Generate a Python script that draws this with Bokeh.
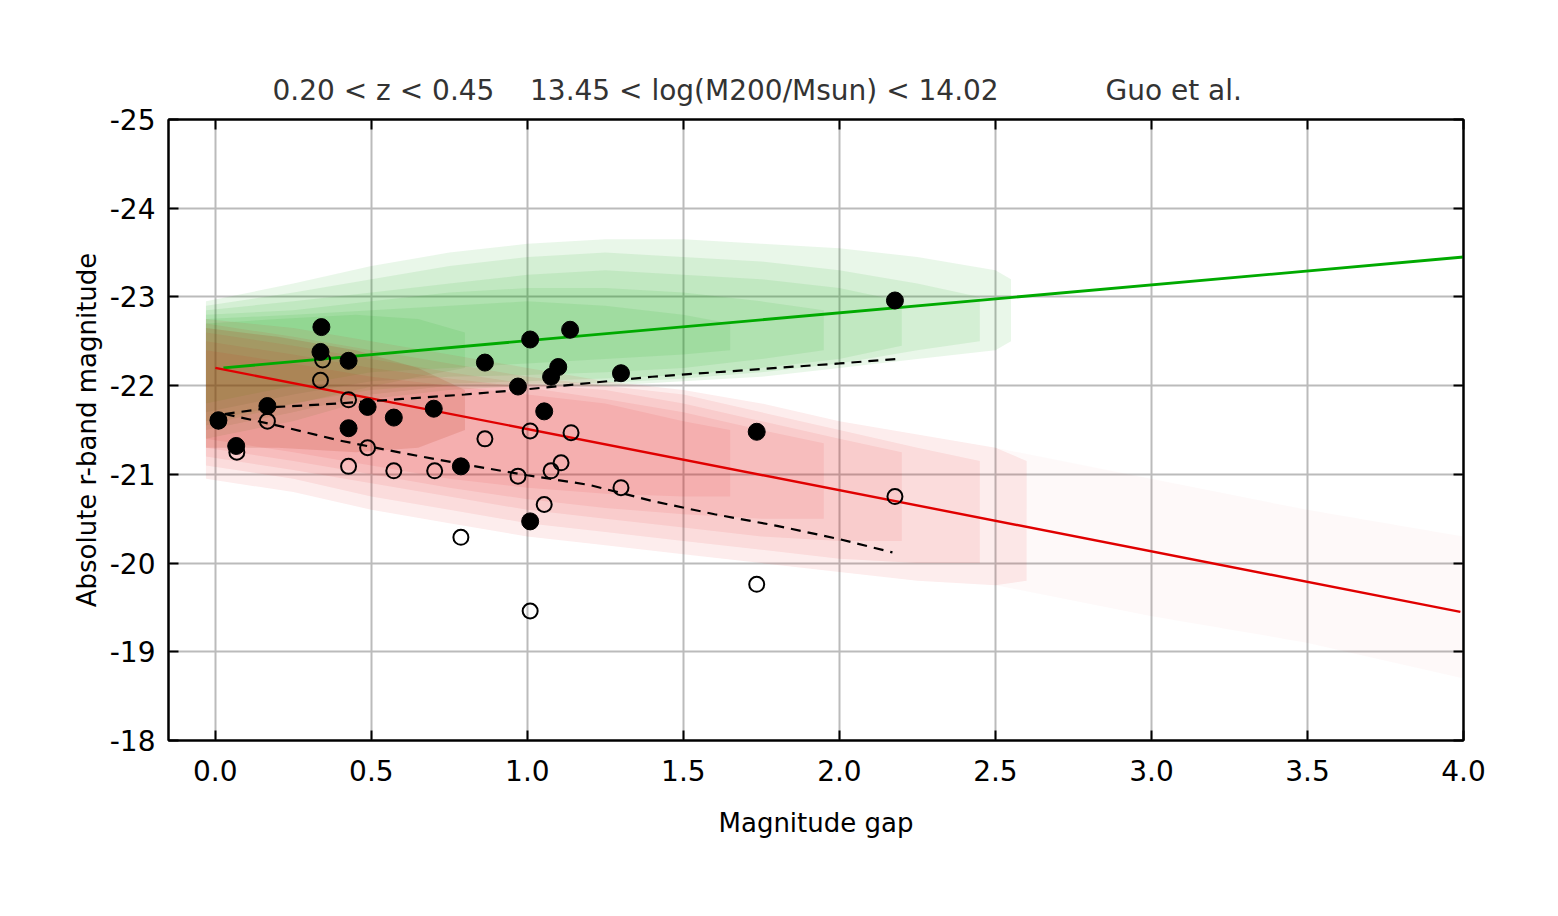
from bokeh.plotting import figure
from bokeh.models import Range1d, LinearAxis, FixedTicker
from bokeh.embed import file_html
from bokeh.resources import INLINE

# ---------------- data ----------------
x_ticks = [0.0, 0.5, 1.0, 1.5, 2.0, 2.5, 3.0, 3.5, 4.0]
y_ticks = [-25, -24, -23, -22, -21, -20, -19, -18]

# brightest group galaxies (filled) and second brightest (open)
filled_x = [0.01, 0.067, 0.167, 0.34, 0.337, 0.427, 0.427, 0.488, 0.572, 0.70, 0.787,
            0.864, 0.97, 1.009, 1.009, 1.054, 1.076, 1.099, 1.137, 1.30, 1.735, 2.178]
filled_m = [-21.61, -21.32, -21.77, -22.66, -22.38, -22.28, -21.52, -21.76, -21.64, -21.74, -21.09,
            -22.26, -21.99, -22.52, -20.47, -21.71, -22.10, -22.21, -22.63, -22.14, -21.48, -22.96]
open_x = [0.01, 0.069, 0.167, 0.344, 0.337, 0.427, 0.427, 0.488, 0.572, 0.703, 0.787,
          0.864, 0.97, 1.009, 1.009, 1.054, 1.076, 1.108, 1.14, 1.30, 1.735, 2.178]
open_m = [-21.60, -21.25, -21.60, -22.29, -22.06, -21.84, -21.09, -21.30, -21.04, -21.04, -20.29,
          -21.40, -20.98, -21.49, -19.46, -20.66, -21.04, -21.13, -21.47, -20.85, -19.76, -20.75]

# model fit lines
green_x = [0.026, 4.0]
green_m = [-22.20, -23.45]
red_x = [0.0, 3.99]
red_m = [-22.20, -19.45]

# dashed running lines
dash_x_up = [0.03, 0.2, 0.4, 0.6, 0.8, 1.0, 1.2, 1.4, 1.6, 1.8, 2.0, 2.18]
dash_m_up = [-21.68, -21.76, -21.80, -21.85, -21.90, -21.96, -22.03, -22.10, -22.15, -22.20, -22.25, -22.30]
dash_x_lo = [0.03, 0.2, 0.4, 0.6, 0.8, 1.0, 1.2, 1.4, 1.6, 1.8, 2.0, 2.17]
dash_m_lo = [-21.68, -21.55, -21.38, -21.24, -21.11, -20.99, -20.88, -20.70, -20.55, -20.42, -20.27, -20.12]

# model galaxy clouds: nested density bands (outer -> inner)
g1_x = [-0.03, 0.25, 0.5, 0.75, 1.0, 1.25, 1.5, 1.75, 2.0, 2.25, 2.5, 2.55]
g1_top = [-22.95, -23.15, -23.35, -23.5, -23.6, -23.65, -23.65, -23.6, -23.55, -23.45, -23.3, -23.2]
g1_bot = [-21.4, -21.6, -21.85, -21.95, -22.0, -22.0, -22.05, -22.1, -22.2, -22.3, -22.4, -22.5]
g2_x = [-0.03, 0.25, 0.5, 0.75, 1.0, 1.25, 1.5, 1.75, 2.0, 2.25, 2.45]
g2_top = [-22.9, -23.05, -23.2, -23.35, -23.45, -23.5, -23.45, -23.4, -23.3, -23.15, -23.0]
g2_bot = [-21.5, -21.7, -21.9, -22.0, -22.02, -22.03, -22.08, -22.15, -22.25, -22.4, -22.5]
g3_x = [-0.03, 0.25, 0.5, 0.75, 1.0, 1.25, 1.5, 1.75, 2.0, 2.2]
g3_top = [-22.85, -22.95, -23.05, -23.15, -23.25, -23.3, -23.25, -23.2, -23.1, -22.95]
g3_bot = [-21.6, -21.8, -21.95, -22.02, -22.05, -22.08, -22.12, -22.2, -22.3, -22.45]
g4_x = [-0.03, 0.25, 0.5, 0.75, 1.0, 1.25, 1.5, 1.75, 1.95]
g4_top = [-22.8, -22.85, -22.95, -23.05, -23.1, -23.1, -23.05, -22.95, -22.85]
g4_bot = [-21.7, -21.9, -22.05, -22.1, -22.12, -22.15, -22.2, -22.3, -22.4]
g5_x = [-0.03, 0.25, 0.5, 0.75, 1.0, 1.25, 1.5, 1.65]
g5_top = [-22.75, -22.8, -22.85, -22.9, -22.95, -22.9, -22.8, -22.7]
g5_bot = [-21.8, -22.0, -22.15, -22.2, -22.25, -22.3, -22.35, -22.4]
g6_x = [-0.03, 0.2, 0.45, 0.65, 0.8]
g6_top = [-22.7, -22.75, -22.8, -22.75, -22.6]
g6_bot = [-21.55, -21.75, -21.95, -22.1, -22.2]

r1_x = [-0.03, 0.25, 0.5, 0.75, 1.0, 1.25, 1.5, 1.75, 2.0, 2.25, 2.5, 2.6]
r1_top = [-22.75, -22.65, -22.5, -22.35, -22.2, -22.05, -21.95, -21.8, -21.6, -21.45, -21.3, -21.15]
r1_bot = [-20.95, -20.8, -20.6, -20.45, -20.3, -20.2, -20.1, -20.0, -19.9, -19.8, -19.75, -19.8]
r2_x = [-0.03, 0.25, 0.5, 0.75, 1.0, 1.25, 1.5, 1.75, 2.0, 2.25, 2.45]
r2_top = [-22.7, -22.55, -22.4, -22.25, -22.1, -22.0, -21.9, -21.7, -21.5, -21.3, -21.15]
r2_bot = [-21.1, -20.95, -20.75, -20.6, -20.45, -20.35, -20.25, -20.15, -20.05, -20.0, -20.0]
r3_x = [-0.03, 0.25, 0.5, 0.75, 1.0, 1.25, 1.5, 1.75, 2.0, 2.2]
r3_top = [-22.6, -22.45, -22.3, -22.15, -22.02, -21.95, -21.8, -21.6, -21.4, -21.25]
r3_bot = [-21.2, -21.05, -20.9, -20.75, -20.6, -20.5, -20.4, -20.3, -20.25, -20.25]
r4_x = [-0.03, 0.25, 0.5, 0.75, 1.0, 1.25, 1.5, 1.75, 1.95]
r4_top = [-22.5, -22.35, -22.2, -22.08, -21.98, -21.85, -21.7, -21.5, -21.35]
r4_bot = [-21.3, -21.15, -21.0, -20.85, -20.72, -20.62, -20.55, -20.5, -20.5]
r5_x = [-0.03, 0.25, 0.5, 0.75, 1.0, 1.25, 1.5, 1.65]
r5_top = [-22.4, -22.25, -22.1, -22.0, -21.9, -21.8, -21.6, -21.5]
r5_bot = [-21.4, -21.25, -21.1, -20.95, -20.85, -20.78, -20.75, -20.75]
r6_x = [-0.03, 0.2, 0.45, 0.65, 0.8]
r6_top = [-22.65, -22.55, -22.4, -22.2, -21.95]
r6_bot = [-21.3, -21.3, -21.25, -21.3, -21.5]
rf_x = [2.5, 3.0, 3.5, 4.0]
rf_top = [-21.3, -20.95, -20.6, -20.3]
rf_bot = [-19.75, -19.4, -19.1, -18.7]

title_text = ("0.20 < z < 0.45" + "\u00a0" * 4 + "13.45 < log(M200/Msun) < 14.02"
              + "\u00a0" * 12 + "Guo et al.")

FONT = "DejaVu Sans"

p = figure(width=1540, height=900, output_backend="svg", toolbar_location=None,
           x_range=Range1d(-0.15, 4.0), y_range=Range1d(-18, -25),
           min_border_left=168, min_border_right=77, min_border_top=119, min_border_bottom=160,
           background_fill_color="white", border_fill_color="white")

p.title.text = title_text
p.title.text_font = FONT
p.title.text_font_size = "28px"
p.title.text_font_style = "normal"
p.title.text_color = "#333333"
p.title.align = "left"
p.title.offset = 104
p.title.standoff = 25

p.outline_line_color = "black"
p.outline_line_width = 2

# clouds: green first, red on top (brown where they overlap)
GREEN = "#00a000"
RED = "#e81010"
for xs, t, b in [(g1_x, g1_top, g1_bot), (g2_x, g2_top, g2_bot), (g3_x, g3_top, g3_bot),
                 (g4_x, g4_top, g4_bot), (g5_x, g5_top, g5_bot), (g6_x, g6_top, g6_bot)]:
    p.varea(x=xs, y1=t, y2=b, fill_color=GREEN, fill_alpha=0.085)
p.varea(x=rf_x, y1=rf_top, y2=rf_bot, fill_color=RED, fill_alpha=0.025)
for xs, t, b in [(r1_x, r1_top, r1_bot), (r2_x, r2_top, r2_bot), (r3_x, r3_top, r3_bot),
                 (r4_x, r4_top, r4_bot), (r5_x, r5_top, r5_bot)]:
    p.varea(x=xs, y1=t, y2=b, fill_color=RED, fill_alpha=0.075)
p.varea(x=r6_x, y1=r6_top, y2=r6_bot, fill_color="#b02000", fill_alpha=0.14)

# fit lines
p.line(green_x, green_m, line_color="#00aa00", line_width=2.8)
p.line(red_x, red_m, line_color="#e00000", line_width=2.4)

# dashed lines
p.line(dash_x_up, dash_m_up, line_color="black", line_width=2.2, line_dash="10 7")
p.line(dash_x_lo, dash_m_lo, line_color="black", line_width=2.2, line_dash="10 7")

# points
p.scatter(open_x, open_m, marker="circle", size=15, fill_color=None,
          line_color="black", line_width=2)
p.scatter(filled_x, filled_m, marker="circle", size=17, fill_color="black",
          line_color="black", line_width=1)

# grids
for g in (p.xgrid, p.ygrid):
    g.grid_line_color = "#bbbbbb"
    g.grid_line_width = 2
p.xgrid.ticker = FixedTicker(ticks=x_ticks)
p.ygrid.ticker = FixedTicker(ticks=y_ticks)


def style_axis(ax, show_labels=True):
    ax.axis_line_color = "black"
    ax.axis_line_width = 2
    ax.major_tick_line_color = "black"
    ax.major_tick_line_width = 2
    ax.major_tick_in = 10
    ax.major_tick_out = 0
    ax.minor_tick_line_color = None
    ax.major_label_text_font = FONT
    if show_labels:
        ax.major_label_text_font_size = "28px"
        ax.major_label_text_color = "black"
    else:
        ax.major_label_text_font_size = "1px"
        ax.major_label_text_color = None
        ax.major_label_standoff = 0
    ax.axis_label_text_font = FONT
    ax.axis_label_text_font_size = "26px"
    ax.axis_label_text_font_style = "normal"
    ax.axis_label_text_color = "black"


xa = p.xaxis[0]
xa.ticker = FixedTicker(ticks=x_ticks)
xa.major_label_overrides = {t: f"{t:.1f}" for t in x_ticks}
xa.axis_label = "Magnitude gap"
style_axis(xa)
xa.major_label_standoff = 19
xa.axis_label_standoff = 24

ya = p.yaxis[0]
ya.ticker = FixedTicker(ticks=y_ticks)
ya.major_label_overrides = {t: str(t) for t in y_ticks}
ya.axis_label = "Absolute r-band magnitude"
style_axis(ya)
ya.major_label_standoff = 13
ya.axis_label_standoff = 5

top = LinearAxis(ticker=FixedTicker(ticks=x_ticks))
style_axis(top, show_labels=False)
p.add_layout(top, "above")
right = LinearAxis(ticker=FixedTicker(ticks=y_ticks))
style_axis(right, show_labels=False)
p.add_layout(right, "right")

open("out.html", "w").write(file_html(p, INLINE))
